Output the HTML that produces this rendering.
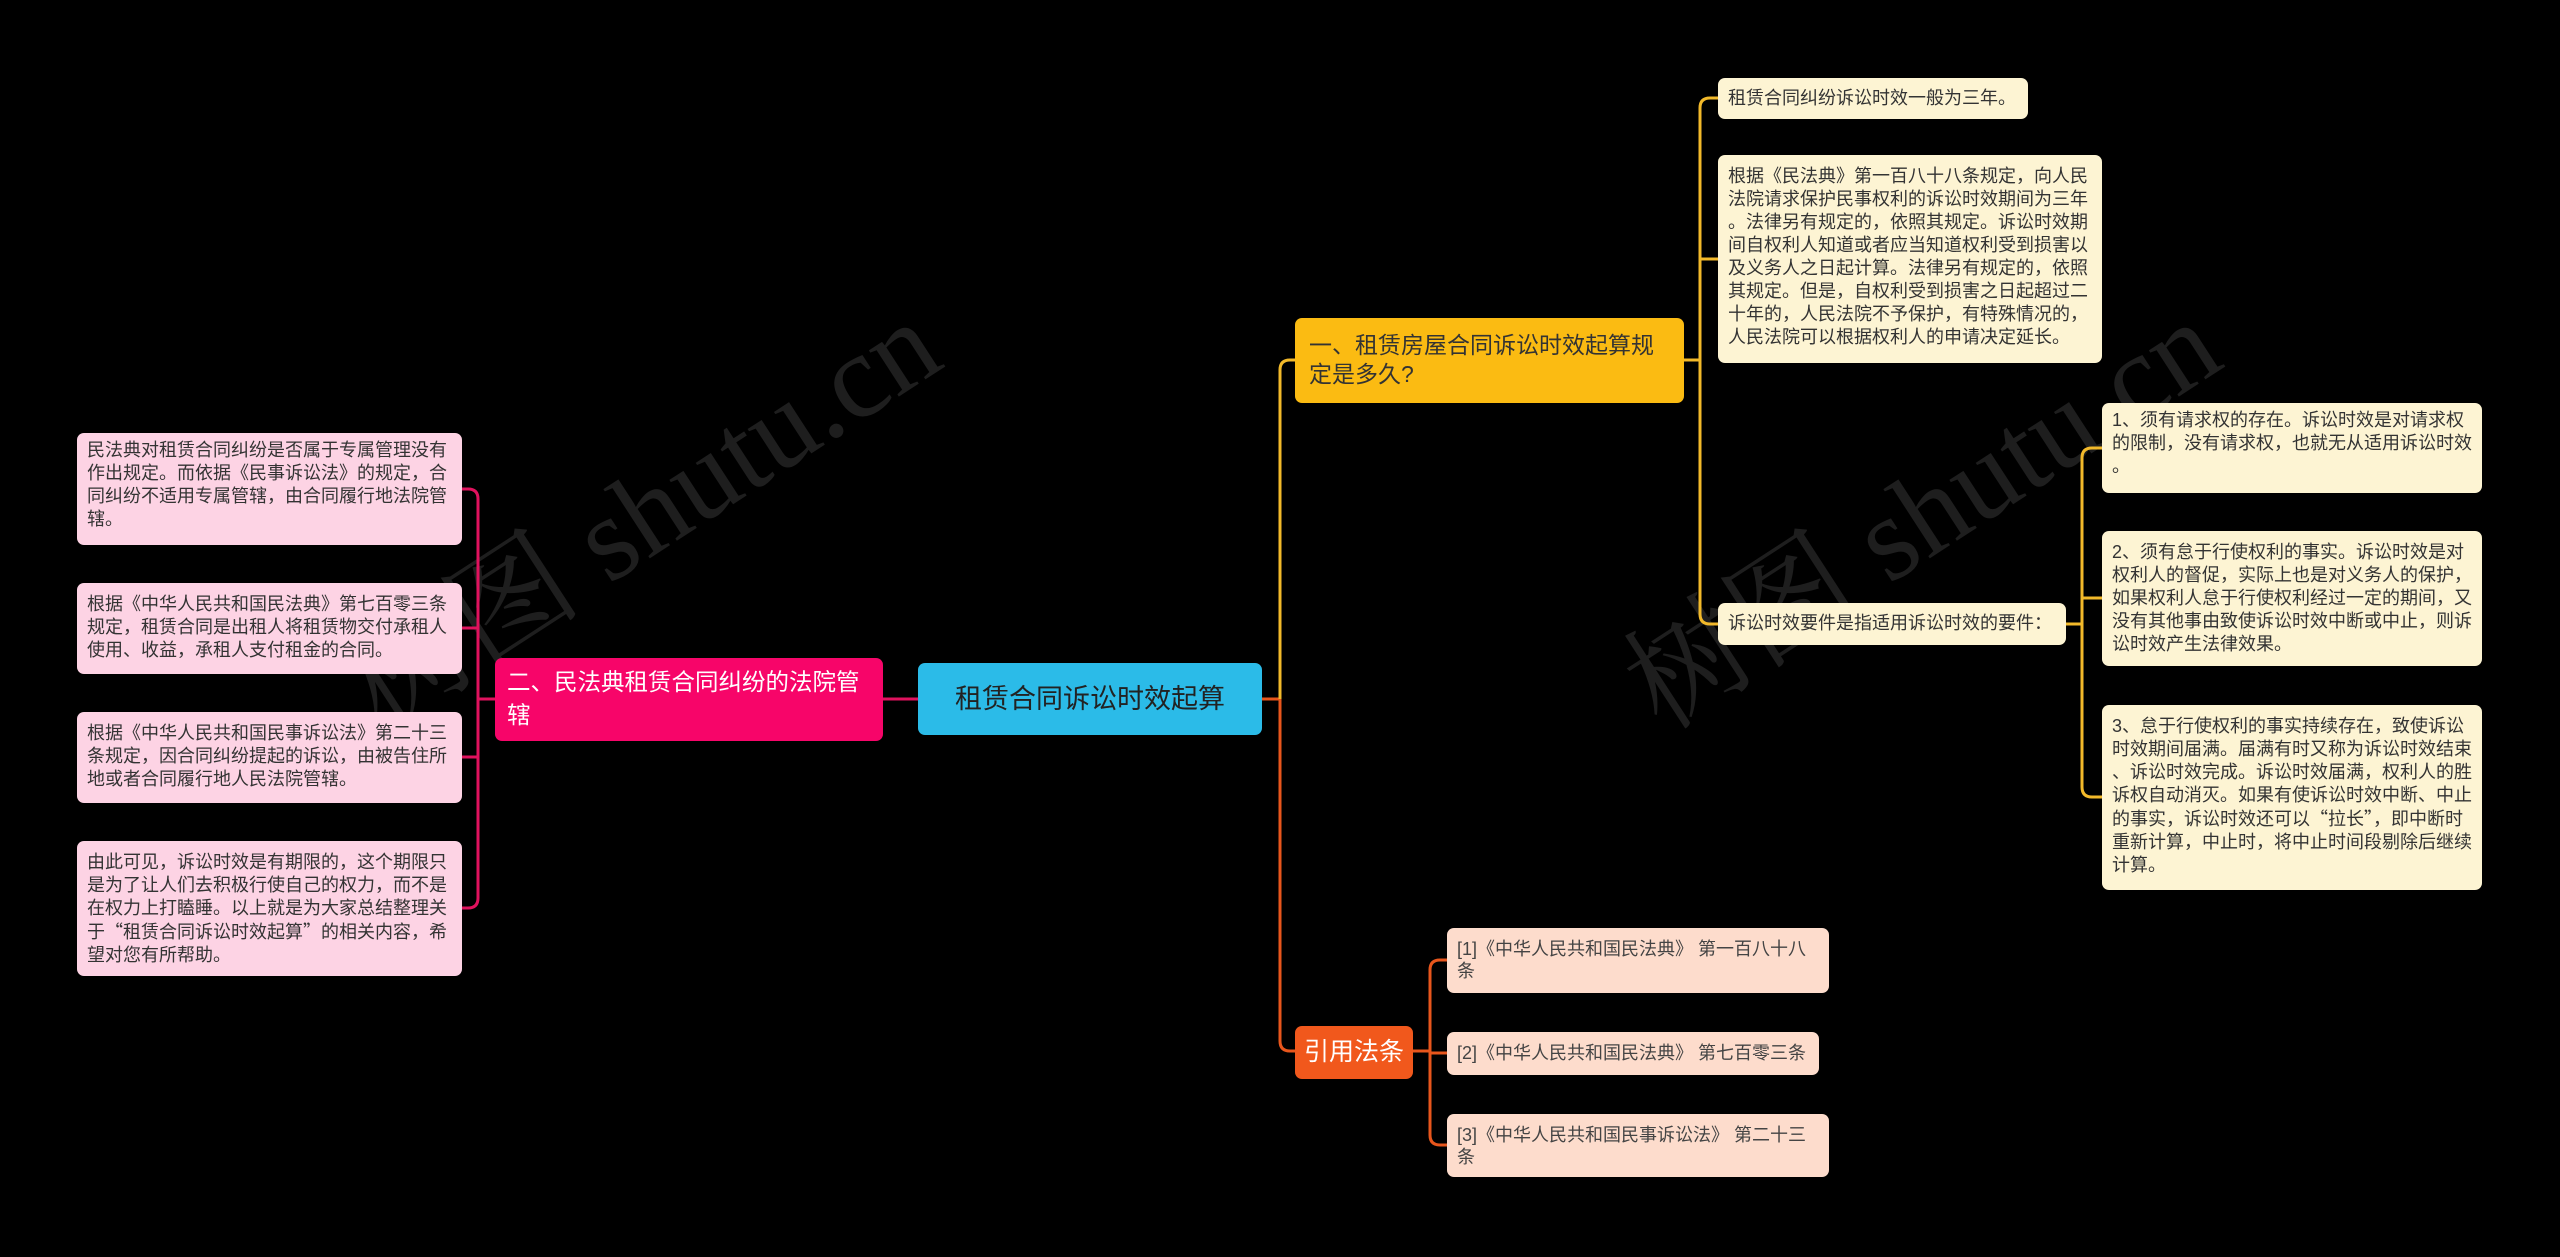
<!DOCTYPE html>
<html><head><meta charset="utf-8"><style>
body{margin:0;width:2560px;height:1257px;background:#000;position:relative;overflow:hidden;font-family:"Liberation Sans","Noto Sans CJK SC",sans-serif;}
.n{position:absolute;box-sizing:border-box;border-radius:7px;line-break:anywhere;}
.lf{font-size:18px;line-height:23px;padding:6px 8px 6px 10px;color:#333;}
.pk{background:#fdd3e4;}
.yl{background:#fdf4d3;}
.cg{background:#fddccc;color:#444;font-size:18px;line-height:22px;padding:10px 10px;}
.q{font-family:"Noto Sans CJK SC",sans-serif;}
.wm{position:absolute;color:#1e1e1e;font-size:120px;font-family:"Liberation Serif","Noto Serif CJK SC",serif;transform:rotate(-33deg);white-space:nowrap;}
</style></head><body>
<div class="wm" style="left:300px;top:420px;">树图 shutu.cn</div>
<div class="wm" style="left:1580px;top:420px;">树图 shutu.cn</div>
<svg width="2560" height="1257" style="position:absolute;left:0;top:0" fill="none" stroke-width="3">
<path d="M918 699 H883" stroke="#e0125e"/>
<path d="M495 699 H478" stroke="#e0125e"/>
<path d="M462 489 H468 Q478 489 478 499 V898 Q478 908 468 908 H462" stroke="#e0125e"/>
<path d="M462 628 H478 M462 757 H478" stroke="#e0125e"/>
<path d="M1262 699 H1280" stroke="#e8561c"/>
<path d="M1280 699 V370 Q1280 360 1290 360 H1295" stroke="#f2b92a"/>
<path d="M1280 699 V1041 Q1280 1051 1290 1051 H1295" stroke="#e8561c"/>
<path d="M1684 360 H1700" stroke="#f2b92a"/>
<path d="M1718 98 H1710 Q1700 98 1700 108 V614 Q1700 624 1710 624 H1718 M1700 259 H1718" stroke="#f2b92a"/>
<path d="M2066 624 H2082 M2102 448 H2092 Q2082 448 2082 458 V787 Q2082 797 2092 797 H2102 M2082 598 H2102" stroke="#f2b92a"/>
<path d="M1413 1051 H1430 M1447 960 H1440 Q1430 960 1430 970 V1135 Q1430 1145 1440 1145 H1447 M1430 1053 H1447" stroke="#e8561c"/>
</svg>
<div class="n" style="left:918px;top:663px;width:344px;height:72px;background:#2bbbe8;color:#222;font-size:27px;line-height:72px;text-align:center;">租赁合同诉讼时效起算</div>
<div class="n" style="left:495px;top:658px;width:388px;height:83px;background:#f70569;color:#fff;font-size:23.5px;line-height:33px;padding:8px 8px 8px 12px;">二、民法典租赁合同纠纷的法院管辖</div>
<div class="n lf pk" style="left:77px;top:433px;width:385px;height:112px;">民法典对租赁合同纠纷是否属于专属管理没有作出规定。而依据《民事诉讼法》的规定，合同纠纷不适用专属管辖，由合同履行地法院管辖。</div>
<div class="n lf pk" style="left:77px;top:583px;width:385px;height:91px;padding-top:10px;">根据《中华人民共和国民法典》第七百零三条规定，租赁合同是出租人将租赁物交付承租人使用、收益，承租人支付租金的合同。</div>
<div class="n lf pk" style="left:77px;top:712px;width:385px;height:91px;padding-top:10px;">根据《中华人民共和国民事诉讼法》第二十三条规定，因合同纠纷提起的诉讼，由被告住所地或者合同履行地人民法院管辖。</div>
<div class="n lf pk" style="left:77px;top:841px;width:385px;height:135px;padding-top:10px;">由此可见，诉讼时效是有期限的，这个期限只是为了让人们去积极行使自己的权力，而不是在权力上打瞌睡。以上就是为大家总结整理关于<span class="q">“</span>租赁合同诉讼时效起算<span class="q">”</span>的相关内容，希望对您有所帮助。</div>
<div class="n" style="left:1295px;top:318px;width:389px;height:85px;background:#fbbb12;color:#333;font-size:23px;line-height:29px;padding:13px 14px;">一、租赁房屋合同诉讼时效起算规定是多久?</div>
<div class="n" style="left:1295px;top:1026px;width:118px;height:53px;background:#f1581c;color:#fff;font-size:25px;line-height:53px;text-align:center;">引用法条</div>
<div class="n lf yl" style="left:1718px;top:78px;width:310px;height:41px;padding-top:9px;">租赁合同纠纷诉讼时效一般为三年。</div>
<div class="n lf yl" style="left:1718px;top:155px;width:384px;height:208px;padding-top:10px;">根据《民法典》第一百八十八条规定，向人民法院请求保护民事权利的诉讼时效期间为三年。法律另有规定的，依照其规定。诉讼时效期间自权利人知道或者应当知道权利受到损害以及义务人之日起计算。法律另有规定的，依照其规定。但是，自权利受到损害之日起超过二十年的，人民法院不予保护，有特殊情况的，人民法院可以根据权利人的申请决定延长。</div>
<div class="n lf yl" style="left:1718px;top:603px;width:348px;height:42px;padding-top:9px;">诉讼时效要件是指适用诉讼时效的要件：</div>
<div class="n lf yl" style="left:2102px;top:403px;width:380px;height:90px;">1、须有请求权的存在。诉讼时效是对请求权的限制，没有请求权，也就无从适用诉讼时效。</div>
<div class="n lf yl" style="left:2102px;top:531px;width:380px;height:135px;padding-top:10px;">2、须有怠于行使权利的事实。诉讼时效是对权利人的督促，实际上也是对义务人的保护，如果权利人怠于行使权利经过一定的期间，又没有其他事由致使诉讼时效中断或中止，则诉讼时效产生法律效果。</div>
<div class="n lf yl" style="left:2102px;top:705px;width:380px;height:185px;padding-top:10px;">3、怠于行使权利的事实持续存在，致使诉讼时效期间届满。届满有时又称为诉讼时效结束、诉讼时效完成。诉讼时效届满，权利人的胜诉权自动消灭。如果有使诉讼时效中断、中止的事实，诉讼时效还可以<span class="q">“</span>拉长<span class="q">”</span>，即中断时重新计算，中止时，将中止时间段剔除后继续计算。</div>
<div class="n cg" style="left:1447px;top:928px;width:382px;height:65px;">[1]《中华人民共和国民法典》 第一百八十八条</div>
<div class="n cg" style="left:1447px;top:1032px;width:372px;height:43px;">[2]《中华人民共和国民法典》 第七百零三条</div>
<div class="n cg" style="left:1447px;top:1114px;width:382px;height:63px;">[3]《中华人民共和国民事诉讼法》 第二十三条</div>
</body></html>
